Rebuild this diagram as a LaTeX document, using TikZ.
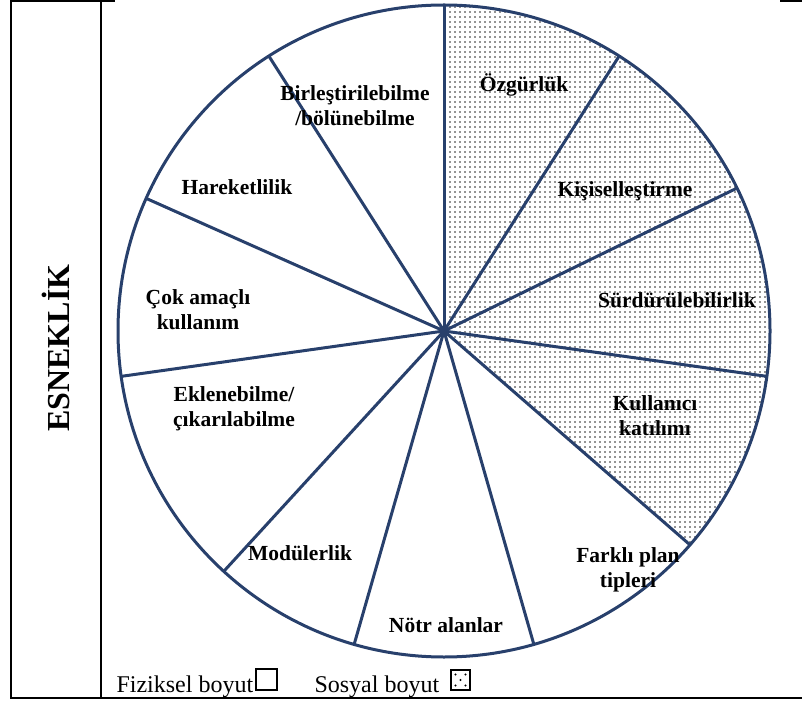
\documentclass[tikz,border=0pt]{standalone}
\usepackage{fontspec}
\setmainfont{Liberation Serif}
\usepackage{tikz}
\usepackage{xcolor}
\usetikzlibrary{patterns}

\definecolor{spoke}{RGB}{40,64,108}

\pgfdeclarepatternformonly{finedots}{\pgfpoint{-1pt}{-1pt}}{\pgfpoint{1pt}{1pt}}{\pgfpoint{5pt}{5pt}}%
{\pgfpathcircle{\pgfpointorigin}{0.8pt}\pgfusepath{fill}}

\begin{document}
\begin{tikzpicture}
[x=1pt,y=1pt,line width=3pt,
 lbl/.style={font=\fontsize{21.5}{25}\selectfont\bfseries,align=center,inner sep=0pt}]

\useasboundingbox (0,0) rectangle (802,702);

% table frame
\draw[line width=2pt] (11,703) -- (11,4) -- (802,4); %left and bottom
\draw[line width=2pt] (101,703) -- (101,4); %column
\draw[line width=2pt] (11,701) -- (115,701); %top left
\draw[line width=2pt] (780,701) -- (802,701); %top right

\node[rotate=90,font=\fontsize{32}{36}\selectfont\bfseries] (title) at (56,354) {ESNEKLİK};

\coordinate (o) at (444,371);

% social part, dotted
\fill[pattern=finedots,pattern color=black!85] (o) -- ++(90:326) arc (90:-41:326) -- cycle;

\draw[spoke] (o) circle (326);
\draw[spoke] (o) -- ++(90:326);
\draw[spoke] (o) -- ++(57.5:326);
\draw[spoke] (o) -- ++(26:326);
\draw[spoke] (o) -- ++(-8:326);
\draw[spoke] (o) -- ++(-41:326);
\draw[spoke] (o) -- ++(-74:326);
\draw[spoke] (o) -- ++(-106:326);
\draw[spoke] (o) -- ++(-132.5:326);
\draw[spoke] (o) -- ++(-172:326);
\draw[spoke] (o) -- ++(156:326);
\draw[spoke] (o) -- ++(122.5:326);

\node[lbl] (birl) at (355,596.5) {Birleştirilebilme\\/bölünebilme};
\node[lbl] (ozg) at (524,617) {Özgürlük};
\node[lbl] (kisi) at (625,511) {Kişiselleştirme};
\node[lbl] (surd) at (677,402) {Sürdürülebilirlik};
\node[lbl] (kull) at (655,286.5) {Kullanıcı\\katılımı};
\node[lbl] (fark) at (628,132.5) {Farklı plan\\tipleri};
\node[lbl] (notr) at (446,77) {Nötr alanlar};
\node[lbl] (modu) at (300,149) {Modülerlik};
\node[lbl] (ekle) at (234,293.5) {Eklenebilme/\\çıkarılabilme};
\node[lbl] (cok) at (198,392.5) {Çok amaçlı\\kullanım};
\node[lbl] (hare) at (237,515) {Hareketlilik};

% legend
\node[anchor=base west,font=\fontsize{24}{28}\selectfont,inner sep=0pt] (fiz) at (115,10) {Fiziksel boyut};
\draw[line width=2pt] (256,12) rectangle (277,33); %empty box
\node[anchor=base west,font=\fontsize{24}{28}\selectfont,inner sep=0pt] (sos) at (313,10) {Sosyal boyut};
\draw[line width=2pt] (451,12) rectangle (470,32); %dotted box
\fill (455.5,16.5) circle (1.1);
\fill (465.5,16.5) circle (1.1);
\fill (460.5,22) circle (1.1);
\fill (455.5,27.5) circle (1.1);
\fill (465.5,27.5) circle (1.1);

\end{tikzpicture}
\end{document}
